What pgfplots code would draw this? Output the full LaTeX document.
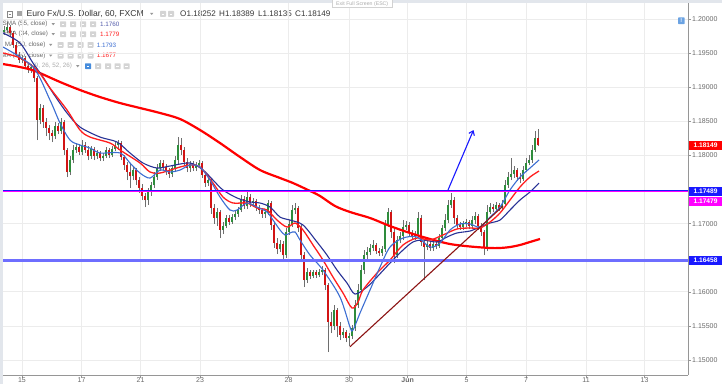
\documentclass[border=0pt]{standalone}
\usepackage{fontspec}
\setmainfont{Liberation Sans}
\usepackage{pgfplots}
\usepackage{pgfplotstable}
\pgfplotsset{compat=1.18}
\usetikzlibrary{arrows.meta}
\definecolor{upg}{RGB}{46,140,60}
\definecolor{dnr}{RGB}{210,20,20}
\definecolor{wick}{RGB}{110,110,110}
\definecolor{lblue}{RGB}{60,110,210}
\definecolor{dblue}{RGB}{40,50,150}
\definecolor{ered}{RGB}{255,30,30}
\definecolor{sred}{RGB}{255,0,0}
\definecolor{hblue}{RGB}{25,25,255}
\definecolor{hblue2}{RGB}{110,110,255}
\definecolor{mag}{RGB}{255,0,255}
\definecolor{tline}{RGB}{140,20,20}
\definecolor{txt}{RGB}{55,55,55}
\definecolor{lbl}{RGB}{105,105,105}
\definecolor{gridc}{RGB}{236,236,236}
\definecolor{axisc}{RGB}{150,150,150}
\definecolor{topbar}{RGB}{226,230,236}
\definecolor{iconc}{RGB}{212,212,212}
\definecolor{iconb}{RGB}{70,140,220}

\pgfplotstableread{
x o h l c
4 1.19814 1.19901 1.19770 1.19843
7 1.19843 1.19960 1.19799 1.19886
10 1.19886 1.19916 1.19740 1.19799
13 1.19799 1.19828 1.19579 1.19623
16 1.19623 1.19667 1.19446 1.19476
19 1.19476 1.19520 1.19358 1.19402
22 1.19402 1.19476 1.19358 1.19432
25 1.19432 1.19461 1.19270 1.19314
28 1.19314 1.19358 1.19212 1.19256
31 1.19256 1.19344 1.19212 1.19300
34 1.19300 1.19329 1.19080 1.19138
37 1.19138 1.19168 1.18228 1.18522
40 1.18522 1.18757 1.18463 1.18698
43 1.18698 1.18742 1.18405 1.18493
46 1.18493 1.18551 1.18287 1.18405
49 1.18405 1.18449 1.18228 1.18331
52 1.18331 1.18375 1.18199 1.18287
55 1.18287 1.18493 1.18243 1.18434
58 1.18434 1.18478 1.18316 1.18360
61 1.18360 1.18551 1.18316 1.18493
64 1.18493 1.18522 1.18008 1.18082
67 1.18082 1.18111 1.17685 1.17759
70 1.17759 1.17993 1.17714 1.17935
73 1.17935 1.18155 1.17891 1.18082
76 1.18082 1.18184 1.18038 1.18126
79 1.18126 1.18170 1.18008 1.18052
82 1.18052 1.18228 1.18008 1.18155
85 1.18155 1.18199 1.18038 1.18082
88 1.18082 1.18140 1.17935 1.17993
91 1.17993 1.18140 1.17950 1.18096
94 1.18096 1.18126 1.17935 1.17993
97 1.17993 1.18082 1.17950 1.18038
100 1.18038 1.18067 1.17920 1.17964
103 1.17964 1.18038 1.17920 1.17993
106 1.17993 1.18126 1.17964 1.18082
109 1.18082 1.18111 1.17964 1.18008
112 1.18008 1.18140 1.17979 1.18096
115 1.18096 1.18199 1.18067 1.18155
118 1.18155 1.18228 1.18082 1.18184
121 1.18184 1.18214 1.17935 1.17979
124 1.17979 1.18008 1.17788 1.17861
127 1.17861 1.17905 1.17641 1.17759
130 1.17759 1.17891 1.17524 1.17700
133 1.17700 1.17847 1.17641 1.17788
136 1.17788 1.17817 1.17568 1.17641
139 1.17641 1.17685 1.17451 1.17524
142 1.17524 1.17583 1.17348 1.17407
145 1.17407 1.17451 1.17245 1.17348
148 1.17348 1.17524 1.17275 1.17466
151 1.17466 1.17612 1.17407 1.17568
154 1.17568 1.17759 1.17524 1.17685
157 1.17685 1.17876 1.17641 1.17817
160 1.17817 1.17935 1.17773 1.17891
163 1.17891 1.17935 1.17788 1.17832
166 1.17832 1.17876 1.17714 1.17773
169 1.17773 1.17817 1.17671 1.17729
172 1.17729 1.17861 1.17685 1.17817
175 1.17817 1.17993 1.17759 1.17935
178 1.17935 1.18272 1.17861 1.18155
181 1.18155 1.18258 1.18008 1.18082
184 1.18082 1.18126 1.17847 1.17905
187 1.17905 1.17964 1.17759 1.17817
190 1.17817 1.17920 1.17759 1.17876
193 1.17876 1.17920 1.17773 1.17817
196 1.17817 1.17905 1.17773 1.17861
199 1.17861 1.17935 1.17817 1.17891
202 1.17891 1.17920 1.17671 1.17714
205 1.17714 1.17759 1.17539 1.17597
208 1.17597 1.17685 1.17553 1.17641
211 1.17641 1.17671 1.17143 1.17231
214 1.17231 1.17289 1.16996 1.17084
217 1.17084 1.17231 1.16966 1.17172
220 1.17172 1.17201 1.16790 1.16908
223 1.16908 1.17025 1.16849 1.16966
226 1.16966 1.17128 1.16937 1.17084
229 1.17084 1.17128 1.16981 1.17025
232 1.17025 1.17143 1.16996 1.17098
235 1.17098 1.17201 1.17054 1.17143
238 1.17143 1.17245 1.17098 1.17201
241 1.17201 1.17422 1.17172 1.17363
244 1.17363 1.17407 1.17216 1.17260
247 1.17260 1.17495 1.17216 1.17392
250 1.17392 1.17436 1.17245 1.17304
253 1.17304 1.17378 1.17260 1.17333
256 1.17333 1.17363 1.17187 1.17231
259 1.17231 1.17275 1.17143 1.17201
262 1.17201 1.17231 1.17084 1.17143
265 1.17143 1.17216 1.17084 1.17172
268 1.17172 1.17348 1.17128 1.17304
271 1.17304 1.17333 1.16908 1.16981
274 1.16981 1.17025 1.16644 1.16717
277 1.16717 1.16790 1.16555 1.16629
280 1.16629 1.16761 1.16585 1.16702
283 1.16702 1.16746 1.16467 1.16540
286 1.16540 1.16937 1.16496 1.16879
289 1.16879 1.17054 1.16835 1.16996
292 1.16996 1.17275 1.16952 1.17201
295 1.17201 1.17304 1.17143 1.17231
298 1.17231 1.17260 1.16879 1.16937
301 1.16937 1.16981 1.16438 1.16540
304 1.16540 1.16585 1.16071 1.16174
307 1.16174 1.16350 1.16130 1.16291
310 1.16291 1.16320 1.16188 1.16232
313 1.16232 1.16320 1.16203 1.16291
316 1.16291 1.16320 1.16203 1.16247
319 1.16247 1.16335 1.16218 1.16291
322 1.16291 1.16379 1.16247 1.16320
325 1.16320 1.16350 1.16027 1.16100
328 1.16100 1.16130 1.15117 1.15557
331 1.15557 1.15704 1.15396 1.15499
334 1.15499 1.15807 1.15440 1.15733
337 1.15733 1.15763 1.15337 1.15499
340 1.15499 1.15557 1.15293 1.15366
343 1.15366 1.15469 1.15322 1.15410
346 1.15410 1.15440 1.15264 1.15322
349 1.15322 1.15396 1.15205 1.15352
352 1.15352 1.15513 1.15308 1.15469
355 1.15469 1.15880 1.15425 1.15807
358 1.15807 1.16115 1.15763 1.16027
361 1.16027 1.16394 1.15983 1.16320
364 1.16320 1.16614 1.16262 1.16540
367 1.16540 1.16658 1.16482 1.16585
370 1.16585 1.16702 1.16540 1.16644
373 1.16644 1.16761 1.16599 1.16688
376 1.16688 1.16717 1.16555 1.16599
379 1.16599 1.16644 1.16526 1.16570
382 1.16570 1.16673 1.16526 1.16629
385 1.16629 1.17054 1.16585 1.16996
388 1.16996 1.17231 1.16952 1.17172
391 1.17172 1.17201 1.16790 1.16879
394 1.16879 1.16922 1.16423 1.16540
397 1.16540 1.16820 1.16496 1.16761
400 1.16761 1.16879 1.16717 1.16820
403 1.16820 1.17054 1.16761 1.16952
406 1.16952 1.17040 1.16908 1.16981
409 1.16981 1.17025 1.16820 1.16864
412 1.16864 1.16908 1.16761 1.16805
415 1.16805 1.16893 1.16761 1.16849
418 1.16849 1.17172 1.16805 1.17084
421 1.17084 1.17128 1.16673 1.16732
424 1.16732 1.16776 1.16174 1.16658
427 1.16658 1.16746 1.16614 1.16702
430 1.16702 1.16732 1.16599 1.16644
433 1.16644 1.16746 1.16599 1.16702
436 1.16702 1.16732 1.16629 1.16673
439 1.16673 1.16849 1.16644 1.16790
442 1.16790 1.16981 1.16746 1.16937
445 1.16937 1.17143 1.16893 1.17054
448 1.17054 1.17348 1.17010 1.17275
451 1.17275 1.17451 1.17231 1.17348
454 1.17348 1.17392 1.16996 1.17084
457 1.17084 1.17128 1.16922 1.16981
460 1.16981 1.17025 1.16908 1.16952
463 1.16952 1.17040 1.16908 1.16996
466 1.16996 1.17069 1.16952 1.17025
469 1.17025 1.17054 1.16922 1.16966
472 1.16966 1.17113 1.16922 1.17054
475 1.17054 1.17172 1.16996 1.17113
478 1.17113 1.17143 1.16908 1.16966
481 1.16966 1.17010 1.16820 1.16879
484 1.16879 1.16908 1.16540 1.16644
487 1.16644 1.17275 1.16599 1.17172
490 1.17172 1.17304 1.17143 1.17245
493 1.17245 1.17289 1.17172 1.17216
496 1.17216 1.17319 1.17187 1.17275
499 1.17275 1.17304 1.17187 1.17231
502 1.17231 1.17348 1.17187 1.17289
505 1.17289 1.17641 1.17245 1.17568
508 1.17568 1.17759 1.17524 1.17685
511 1.17685 1.17964 1.17641 1.17729
514 1.17729 1.17847 1.17671 1.17788
517 1.17788 1.17817 1.17627 1.17685
520 1.17685 1.17744 1.17597 1.17656
523 1.17656 1.17847 1.17627 1.17788
526 1.17788 1.17964 1.17759 1.17891
529 1.17891 1.18008 1.17861 1.17935
532 1.17935 1.18155 1.17891 1.18082
535 1.18082 1.18360 1.18052 1.18252
538 1.18252 1.18389 1.18135 1.18149
}\candles

\newcommand{\tri}[2]{\fill[lbl!70] (#1,#2+1.2) -- (#1+3.4,#2+1.2) -- (#1+1.7,#2-1.0) -- cycle;}
\newcommand{\ico}[3]{\fill[#3,rounded corners=0.6pt] (#1,#2-2.8) rectangle (#1+6,#2+3.0);
  \draw[white,line width=0.5pt] (#1+1.6,#2+0.1) -- (#1+4.4,#2+0.1);}

\begin{document}
\begin{tikzpicture}[x=1pt,y=1pt]
\useasboundingbox (0,0) rectangle (722,384);
\fill[white] (0,0) rectangle (722,384);

% header legend (drawn beneath the chart, as in the reference)
\draw[lbl!80,line width=0.5pt] (7,367.2) rectangle (12.5,372.7);
\draw[lbl!80,line width=0.5pt] (8.5,370) -- (11,370);
\fill[lbl!60] (16.5,367.5) rectangle (21.5,372.5);
\node[anchor=west,inner sep=0pt,text=txt,font=\fontsize{8.6}{10}\selectfont] at (26.5,370) {Euro Fx/U.S. Dollar, 60, FXCM};
\tri{150}{370}
\ico{160}{370}{iconc}\ico{168}{370}{iconc}
\node[anchor=west,inner sep=0pt,text=txt,font=\fontsize{8.1}{10}\selectfont] at (180,370) {O1.18252};
\node[anchor=west,inner sep=0pt,text=txt,font=\fontsize{8.1}{10}\selectfont] at (219,370) {H1.18389};
\node[anchor=west,inner sep=0pt,text=txt,font=\fontsize{8.1}{10}\selectfont] at (258,370) {L1.18135};
\node[anchor=west,inner sep=0pt,text=txt,font=\fontsize{8.1}{10}\selectfont] at (295,370) {C1.18149};

\begin{scope}[font=\fontsize{6.3}{7}\selectfont]
\node[anchor=east,inner sep=0pt,text=lbl] at (47.7,359.7) {SMA (55, close)};
\tri{51.5}{359.7}
\ico{60}{359.7}{iconc}\ico{70}{359.7}{iconc}\ico{80}{359.7}{iconc}\ico{90}{359.7}{iconc}
\node[anchor=west,inner sep=0pt,text=dblue!80] at (100,359.7) {1.1760};

\node[anchor=east,inner sep=0pt,text=lbl] at (48.3,349.7) {EMA (34, close)};
\tri{51.5}{349.7}
\ico{60}{349.7}{iconc}\ico{70}{349.7}{iconc}\ico{80}{349.7}{iconc}\ico{90}{349.7}{iconc}
\node[anchor=west,inner sep=0pt,text=ered] at (100,349.7) {1.1779};

\node[anchor=east,inner sep=0pt,text=lbl] at (45.7,339) {MA (50, close)};
\tri{49}{339}
\ico{57.5}{339}{iconc}\ico{67.5}{339}{iconc}\ico{77.5}{339}{iconc}\ico{87.5}{339}{iconc}
\node[anchor=west,inner sep=0pt,text=lblue] at (96.7,339) {1.1793};

\node[anchor=east,inner sep=0pt,text=lbl] at (45.7,328.3) {MA (200, close)};
\tri{49}{328.3}
\ico{57.5}{328.3}{iconc}\ico{67.5}{328.3}{iconc}\ico{77.5}{328.3}{iconc}\ico{87.5}{328.3}{iconc}
\node[anchor=west,inner sep=0pt,text=ered] at (96.7,328.3) {1.1677};

\node[anchor=east,inner sep=0pt,text=lbl!55] at (72.3,317.7) {IC (9, 26, 52, 26)};
\tri{76}{317.7}
\ico{85}{317.7}{iconb}\ico{95}{317.7}{iconc}\ico{105}{317.7}{iconc}\ico{114.5}{317.7}{iconc}\ico{123.5}{317.7}{iconc}
\end{scope}

\begin{axis}[
  at={(3pt,9pt)}, anchor=south west, scale only axis,
  width=685pt, height=372pt,
  xmin=3, xmax=688, ymin=1.14780, ymax=1.20239,
  axis x line*=bottom, axis y line*=right,
  x axis line style={-, draw=axisc, line width=1pt},
  y axis line style={-, draw=axisc, line width=1pt},
  xtick={22,81.6,140.6,200,288.6,349,407.6,466.6,526,586,644.5},
  xticklabels={15,17,21,23,28,30,\textbf{Jun},5,7,11,13},
  ytick={1.15,1.155,1.16,1.17,1.18,1.185,1.19,1.195,1.2},
  grid=major, major grid style={draw=gridc, line width=0.8pt},
  tick align=outside, major tick length=3pt,
  tick style={draw=axisc, line width=0.6pt},
  /pgf/number format/assume math mode=true,
  ticklabel style={font=\fontsize{7}{8}\selectfont, text=lbl},
  y tick label style={/pgf/number format/fixed, /pgf/number format/fixed zerofill, /pgf/number format/precision=5, inner sep=1pt},
  x tick label style={inner sep=0pt, yshift=0.8pt},
  clip=true,
]
% wicks
\addplot[draw=none, mark=none, forget plot,
  error bars/.cd, y dir=plus, y explicit, error mark=none,
  error bar style={draw=wick, line width=0.7pt, solid}]
  table[x=x, y=l, y error expr=\thisrow{h}-\thisrow{l}] {\candles};
% up bodies
\addplot[draw=none, mark=none, forget plot,
  restrict expr to domain={\thisrow{c}-\thisrow{o}}{0:1},
  error bars/.cd, y dir=plus, y explicit, error mark=none,
  error bar style={draw=upg, line width=2pt, solid}]
  table[x=x, y=o, y error expr=\thisrow{c}-\thisrow{o}] {\candles};
% down bodies
\addplot[draw=none, mark=none, forget plot,
  restrict expr to domain={\thisrow{c}-\thisrow{o}}{-1:-0.0000001},
  error bars/.cd, y dir=plus, y explicit, error mark=none,
  error bar style={draw=dnr, line width=2pt, solid}]
  table[x=x, y=c, y error expr=\thisrow{o}-\thisrow{c}] {\candles};

% MA 200 (thick red)
\addplot[sred, line width=2.2pt, smooth, mark=none] coordinates {
(3,1.19343) (20,1.19299) (35,1.19241) (60,1.19080) (80,1.18962) (100,1.18859)
(120,1.18771) (140,1.18698) (160,1.18625) (180,1.18537) (200,1.18375) (220,1.18184)
(240,1.17979) (260,1.17788) (280,1.17671) (293,1.17597) (308,1.17495) (320,1.17407)
(335,1.17260) (350,1.17172) (370,1.17084) (390,1.16966) (410,1.16864) (430,1.16776)
(450,1.16702) (470,1.16666) (490,1.16644) (500,1.16644) (510,1.16658) (520,1.16688)
(530,1.16732) (540,1.16776)};
% SMA 55 (dark blue)
\addplot[dblue, line width=1.1pt, smooth, mark=none] coordinates {
(3,1.19799) (20,1.19652) (33,1.19358) (43,1.19153) (53,1.18918) (67,1.18625)
(80,1.18419) (100,1.18272) (117,1.18199) (130,1.18038) (143,1.17891) (157,1.17817)
(170,1.17847) (190,1.17891) (203,1.17788) (213,1.17641) (223,1.17495) (237,1.17378)
(250,1.17319) (260,1.17304) (270,1.17245) (280,1.17098) (290,1.17054) (303,1.16981)
(317,1.16732) (327,1.16540) (337,1.16320) (347,1.16130) (355,1.15968) (367,1.16071)
(377,1.16218) (390,1.16423) (403,1.16614) (413,1.16732) (423,1.16761) (437,1.16732)
(447,1.16805) (457,1.16864) (470,1.16893) (480,1.16952) (490,1.17010) (500,1.17054)
(510,1.17201) (520,1.17348) (530,1.17466) (539,1.17597)};
% EMA 34 (red)
\addplot[ered, line width=1.3pt, smooth, mark=none] coordinates {
(3,1.19505) (20,1.19432) (37,1.19256) (50,1.18991) (67,1.18669) (80,1.18375)
(90,1.18272) (110,1.18184) (120,1.18082) (140,1.17891) (150,1.17759) (160,1.17744)
(180,1.17832) (190,1.17861) (200,1.17832) (213,1.17597) (223,1.17392) (233,1.17304)
(247,1.17304) (257,1.17231) (267,1.17201) (277,1.17054) (287,1.16951) (295,1.17010)
(303,1.16908) (313,1.16688) (323,1.16467) (333,1.16217) (343,1.15983) (352,1.15763)
(358,1.15851) (363,1.16027) (377,1.16276) (390,1.16467) (403,1.16688) (417,1.16790)
(430,1.16761) (443,1.16835) (457,1.16923) (470,1.16937) (480,1.16937) (490,1.17025)
(500,1.17157) (510,1.17348) (520,1.17539) (530,1.17685) (539,1.17773)};
% MA 50 (light blue)
\addplot[lblue, line width=1.1pt, smooth, mark=none] coordinates {
(3,1.19593) (33,1.19300) (50,1.18815) (60,1.18478) (70,1.18228) (80,1.18155)
(90,1.18111) (100,1.18038) (120,1.18038) (130,1.17891) (140,1.17744) (150,1.17670)
(160,1.17788) (170,1.17759) (180,1.17788) (190,1.17861) (200,1.17832) (210,1.17641)
(220,1.17392) (230,1.17201) (237,1.17201) (247,1.17304) (257,1.17245) (267,1.17172)
(273,1.17054) (280,1.16908) (285,1.16835) (290,1.16864) (295,1.16879) (300,1.16761)
(310,1.16540) (323,1.16320) (340,1.15924) (350,1.15484) (353,1.15440) (360,1.15689)
(370,1.16027) (380,1.16364) (390,1.16658) (403,1.16790) (417,1.16805) (430,1.16658)
(440,1.16717) (450,1.16908) (460,1.16996) (470,1.16996) (480,1.16952) (490,1.17098)
(500,1.17245) (510,1.17495) (520,1.17685) (530,1.17817) (539,1.17935)};

% horizontal levels
\addplot[mag, line width=0.9pt, mark=none] coordinates {(3,1.17479) (688,1.17479)};
\addplot[hblue, line width=1.3pt, mark=none] coordinates {(3,1.17489) (688,1.17489)};
\addplot[hblue2, line width=2.4pt, mark=none] coordinates {(3,1.16458) (688,1.16458)};
% trend line
\addplot[tline, line width=1.1pt, mark=none] coordinates {(350,1.15195) (503,1.17260)};
% arrow
\addplot[hblue, line width=1.1pt, mark=none, -{Straight Barb[length=4pt,width=6pt]}] coordinates {(448,1.17495) (473.5,1.18375)};
\end{axis}

% price tags on the right
\begin{scope}[font=\bfseries\fontsize{6.6}{7}\selectfont]
\fill[sred] (688.5,234.2) rectangle (722,243);
\node[text=white,inner sep=0pt] at (705.5,238.6) {1.18149};
\fill[hblue] (688.5,188.2) rectangle (722,197.2);
\node[text=white,inner sep=0pt] at (705.5,192.7) {1.17489};
\fill[mag] (688.5,178.2) rectangle (722,187.2);
\node[text=white,inner sep=0pt] at (705.5,182.7) {1.17479};
\fill[hblue] (688.5,118.8) rectangle (722,127.8);
\node[text=white,inner sep=0pt] at (705.5,123.3) {1.16458};
\end{scope}

% top bars, tooltip, alert icon
\fill[topbar] (0,381) rectangle (722,384);
\fill[topbar] (0,0) rectangle (3,384);
\filldraw[fill=white, draw=gray!35, line width=0.4pt] (332,376.3) rectangle (392.5,384.5);
\node[text=gray!65, inner sep=0pt, font=\fontsize{5.2}{6}\selectfont] at (362.2,380.3) {Exit Full Screen (ESC)};
\fill[iconb!80, rounded corners=0.5pt] (678,360) rectangle (684.5,366.5);
\node[text=white, inner sep=0pt, font=\bfseries\fontsize{5.5}{6}\selectfont] at (681.25,363.25) {!};
\end{tikzpicture}
\end{document}
